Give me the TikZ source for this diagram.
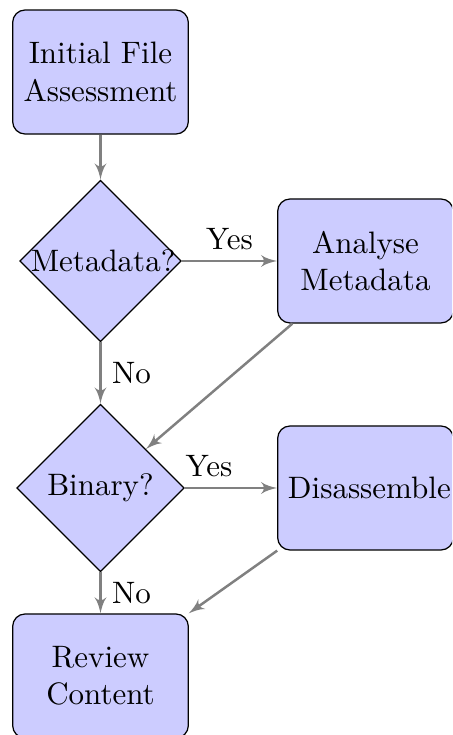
\documentclass[tikz,border=0pt]{standalone}
\usetikzlibrary{shapes.geometric,arrows}
\begin{document}
\begin{tikzpicture}[
  blockbox/.style={rectangle, draw, fill=blue!20, text width=5em, text centered, rounded corners, minimum height=4em},
  decision/.style={diamond, draw, fill=blue!20, text width=4.5em, text badly centered, inner sep=0pt},
  conn/.style={draw=gray, thick, -latex'},
  lbl/.style={font=\normalsize}
]
\useasboundingbox (0pt,0pt) rectangle (145.81pt,-237.1pt);
\clip (0pt,0pt) rectangle (145.81pt,-237.1pt);
\node[blockbox] (init) at (32.42pt,-23.23pt) {Initial File Assessment};
\node[decision] (meta) at (32.42pt,-84.19pt) {Metadata?};
\node[blockbox] (ameta) at (117.9pt,-84.19pt) {Analyse Metadata};
\node[decision] (bin) at (32.42pt,-157.42pt) {Binary?};
\node[blockbox] (dis) at (117.9pt,-157.42pt) {Disassemble};
\node[blockbox] (rev) at (32.42pt,-218.06pt) {Review Content};
\path[conn] (init) -- (meta);
\path[conn] (meta) -- node[lbl, above] (y1) {Yes} (ameta);
\path[conn] (meta) -- node[lbl, right] (n1) {No} (bin);
\path[conn] (ameta) -- (bin);
\path[conn] (bin) -- node[lbl, above, pos=0.26] (y2) {Yes} (dis);
\path[conn] (bin) -- node[lbl, right] (n2) {No} (rev);
\path[conn] (dis) -- (rev);
\end{tikzpicture}
\end{document}
